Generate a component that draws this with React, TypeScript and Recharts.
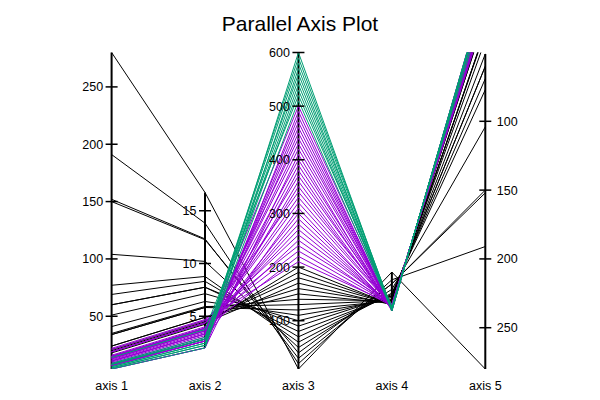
import { LineChart, Line, XAxis, YAxis, ReferenceLine, ReferenceDot } from 'recharts'

const axisNames = ['axis 1', 'axis 2', 'axis 3', 'axis 4', 'axis 5']

// counts
const axis1 = [
  280, 191, 152, 150, 104, 77, 69, 60, 60, 51,
  41, 34, 35, 34, 24, 24, 19, 21, 20, 18,
  21, 15, 19, 22, 15, 19, 16, 15, 13, 13,
  8, 14, 14, 19, 11, 8, 15, 7, 9, 12,
  4, 11, 10, 13, 7, 8, 7, 7, 4, 11,
  5, 14, 6, 6, 8, 9, 4, 8, 8, 5,
]
// errors
const axis2 = [
  16.73, 13.82, 12.33, 12.25, 10.2, 8.77, 8.31, 7.75, 7.75, 7.14,
  6.4, 5.83, 5.92, 5.83, 4.9, 4.9, 4.36, 4.58, 4.47, 4.24,
  4.58, 3.87, 4.36, 4.69, 3.87, 4.36, 4.0, 3.87, 3.61, 3.61,
  2.83, 3.74, 3.74, 4.36, 3.32, 2.83, 3.87, 2.65, 3.0, 3.46,
  2.0, 3.32, 3.16, 3.61, 2.65, 2.83, 2.65, 2.65, 2.0, 3.32,
  2.24, 3.74, 2.45, 2.45, 2.83, 3.0, 2.0, 2.83, 2.83, 2.24,
]
// time
const axis3 = [
  10, 20, 30, 40, 50, 60, 70, 80, 90, 100,
  110, 120, 130, 140, 150, 160, 170, 180, 190, 200,
  210, 220, 230, 240, 250, 260, 270, 280, 290, 300,
  310, 320, 330, 340, 350, 360, 370, 380, 390, 400,
  410, 420, 430, 440, 450, 460, 470, 480, 490, 500,
  510, 520, 530, 540, 550, 560, 570, 580, 590, 600,
]
// half errors
const axis4 = [
  8.37, 6.91, 6.16, 6.12, 5.1, 4.39, 4.15, 3.87, 3.87, 3.57,
  3.2, 2.92, 2.96, 2.92, 2.45, 2.45, 2.18, 2.29, 2.24, 2.12,
  2.29, 1.94, 2.18, 2.35, 1.94, 2.18, 2.0, 1.94, 1.8, 1.8,
  1.41, 1.87, 1.87, 2.18, 1.66, 1.41, 1.94, 1.32, 1.5, 1.73,
  1.0, 1.66, 1.58, 1.8, 1.32, 1.41, 1.32, 1.32, 1.0, 1.66,
  1.12, 1.87, 1.22, 1.22, 1.41, 1.5, 1.0, 1.41, 1.41, 1.12,
]
// counts again, reversed axis
const axis5 = axis1

const groups = [
  0, 0, 0, 0, 0, 0, 0, 0, 0, 0,
  0, 0, 0, 0, 0, 0, 0, 0, 0, 0,
  1, 1, 1, 1, 1, 1, 1, 1, 1, 1,
  1, 1, 1, 1, 1, 1, 1, 1, 1, 1,
  1, 1, 1, 1, 1, 1, 1, 1, 1, 1,
  2, 2, 2, 2, 2, 2, 2, 2, 2, 2,
]

const axisValues = [axis1, axis2, axis3, axis4, axis5]
const ranges: [number, number][] = [[4, 280], [0, 30], [10, 600], [-10, 50], [50, 280]]
const reversed = [false, false, false, false, true]
const axisTicks = [
  [50, 100, 150, 200, 250],
  [5, 10, 15],
  [100, 200, 300, 400, 500, 600],
  [],
  [100, 150, 200, 250],
]
const colors = ['#000000', '#9400d3', '#009e73']
const font = '"Liberation Sans", Arial, sans-serif'

const norm = (j: number, v: number) => {
  const [lo, hi] = ranges[j]
  return reversed[j] ? (hi - v) / (hi - lo) : (v - lo) / (hi - lo)
}

const chartData = axisValues.map((vals, j) => {
  const row: Record<string, number> = { x: j + 1 }
  vals.forEach((v, i) => { row['r' + i] = norm(j, v) })
  return row
})

const axisSpans = axisValues.map((vals, j) => {
  const [lo, hi] = ranges[j]
  const inside = vals.filter(v => v >= lo && v <= hi).map(v => norm(j, v))
  return [Math.min(...inside), Math.max(...inside)]
})

function tickShape(label: number, side: 'left' | 'right') {
  return (p: any) => {
    const { cx, cy } = p
    return (
      <g>
        <line x1={cx - 6} x2={cx + 6} y1={cy} y2={cy} stroke="#000" strokeWidth={1.5} />
        <text
          x={side === 'left' ? cx - 8.5 : cx + 11.5}
          y={cy}
          dy={4.5}
          textAnchor={side === 'left' ? 'end' : 'start'}
          fontSize={12.5}
          fontFamily={font}
          fill="#000"
        >
          {label}
        </text>
      </g>
    )
  }
}

export default function App() {
  return (
    <div style={{ position: 'absolute', left: 0, top: 0, width: 600, height: 400, background: '#fff', fontFamily: font }}>
      <svg width={600} height={40} style={{ position: 'absolute', left: 0, top: 0 }}>
        <text x={300} y={31} textAnchor="middle" fontSize={21} fontFamily={font} fill="#000">
          Parallel Axis Plot
        </text>
      </svg>
      <LineChart
        width={600}
        height={400}
        data={chartData}
        margin={{ top: 52.5, right: 114.7, bottom: 1, left: 111.6 }}
      >
        <XAxis
          type="number"
          dataKey="x"
          domain={[1, 5]}
          ticks={[1, 2, 3, 4, 5]}
          axisLine={false}
          tickLine={false}
          height={30}
          tick={(p: any) => (
            <text x={p.x} y={p.y} dy={12.5} textAnchor="middle" fontSize={12.5} fontFamily={font} fill="#000">
              {axisNames[p.payload.value - 1]}
            </text>
          )}
        />
        <YAxis type="number" domain={[0, 1]} allowDataOverflow hide />
        {axisSpans.map(([a, b], j) => (
          <ReferenceLine
            key={'ax' + j}
            segment={[{ x: j + 1, y: a }, { x: j + 1, y: b }]}
            stroke="#000"
            strokeWidth={2}
          />
        ))}
        {axisTicks.map((ts, j) =>
          ts.map(t => (
            <ReferenceDot
              key={'t' + j + '-' + t}
              x={j + 1}
              y={norm(j, t)}
              r={0}
              shape={tickShape(t, j === 4 ? 'right' : 'left')}
            />
          ))
        )}
        {axis3.map((_, i) => (
          <Line
            key={i}
            type="linear"
            dataKey={'r' + i}
            stroke={colors[groups[i]]}
            strokeWidth={1}
            dot={false}
            activeDot={false}
            isAnimationActive={false}
          />
        ))}
      </LineChart>
    </div>
  )
}
